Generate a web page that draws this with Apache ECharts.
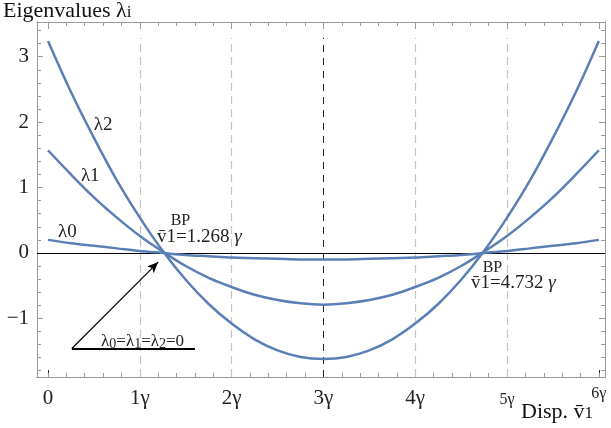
<!DOCTYPE html>
<html>
<head>
<meta charset="utf-8">
<script src="https://cdn.jsdelivr.net/npm/echarts@6/dist/echarts.min.js"></script>
<style>
  html, body { margin: 0; padding: 0; background: #fff; }
  #chart { width: 611px; height: 428px; }
</style>
</head>
<body>
<div id="chart"></div>
<script>
// Displacement (in units of gamma) at which the eigenvalues are sampled
const xValues = [0, 0.25, 0.5, 0.75, 1, 1.25, 1.5, 1.75, 2, 2.25, 2.5, 2.75, 3,
                 3.25, 3.5, 3.75, 4, 4.25, 4.5, 4.75, 5, 5.25, 5.5, 5.75, 6];

// Eigenvalues lambda_0, lambda_1, lambda_2
const lambda0 = [0.20, 0.15, 0.11, 0.07, 0.03, 0.00, -0.03, -0.05, -0.07, -0.08, -0.09, -0.10, -0.10,
                 -0.10, -0.09, -0.08, -0.07, -0.05, -0.03, 0.00, 0.03, 0.07, 0.11, 0.15, 0.20];
const lambda1 = [1.57, 1.20, 0.85, 0.54, 0.26, 0.02, -0.20, -0.38, -0.52, -0.64, -0.72, -0.77, -0.79,
                 -0.77, -0.72, -0.64, -0.52, -0.38, -0.20, 0.02, 0.26, 0.54, 0.85, 1.20, 1.57];
const lambda2 = [3.24, 2.46, 1.76, 1.11, 0.54, 0.03, -0.41, -0.78, -1.08, -1.32, -1.49, -1.59, -1.62,
                 -1.59, -1.49, -1.32, -1.08, -0.78, -0.41, 0.03, 0.54, 1.11, 1.76, 2.46, 3.24];

// Branch points where all three eigenvalues vanish
const branchPoints = [1.268, 4.732];

// Tick positions
const xMajorTicks = [0, 1, 2, 3, 4, 5, 6];
const xMinorTicks = [0, 0.2, 0.4, 0.6, 0.8, 1, 1.2, 1.4, 1.6, 1.8, 2, 2.2, 2.4, 2.6, 2.8, 3,
                     3.2, 3.4, 3.6, 3.8, 4, 4.2, 4.4, 4.6, 4.8, 5, 5.2, 5.4, 5.6, 5.8, 6];
const xTickLabels = [0, 1, 2, 3, 4];
const xTickLabelsSmall = [5];
const xTickLabelsTop = [6];
const yMajorTicks = [-1, 0, 1, 2, 3];
const yMinorTicks = [-1.8, -1.6, -1.4, -1.2, -1, -0.8, -0.6, -0.4, -0.2, 0, 0.2, 0.4, 0.6, 0.8, 1,
                     1.2, 1.4, 1.6, 1.8, 2, 2.2, 2.4, 2.6, 2.8, 3, 3.2, 3.4];

// Vertical guide lines at multiples of gamma
const guideX = [1, 2, 4, 5];
const centreGuideX = 3;

const X_MIN = -0.12, X_MAX = 6.067;
const Y_MIN = -1.896, Y_MAX = 3.53;
const GUIDE_TOP = 3.29;

const SERIF = '"Liberation Serif", "DejaVu Serif", serif';
const LINE_COLOR = '#5b7fb5';
const FRAME = '#9a9a9a';

function pairs(xs, ys) { return xs.map((x, i) => [x, ys[i]]); }
function gammaLabel(v) { return v === 0 ? '0' : v + 'γ'; }

function frameAxisX(pos, ticks, len, color, extra) {
  return Object.assign({
    type: 'value', position: pos, min: X_MIN, max: X_MAX,
    axisLine: { show: true, onZero: false, lineStyle: { color: FRAME, width: 1 } },
    axisTick: { show: true, inside: true, length: len, customValues: ticks, lineStyle: { color: color, width: 1 } },
    axisLabel: { show: false },
    splitLine: { show: false }
  }, extra || {});
}
function frameAxisY(pos, ticks, len, color, extra) {
  return Object.assign({
    type: 'value', position: pos, min: Y_MIN, max: Y_MAX,
    axisLine: { show: true, onZero: false, lineStyle: { color: FRAME, width: 1 } },
    axisTick: { show: true, inside: true, length: len, customValues: ticks, lineStyle: { color: color, width: 1 } },
    axisLabel: { show: false },
    splitLine: { show: false }
  }, extra || {});
}

const labelFont = { fontFamily: SERIF, color: '#222' };

const chart = echarts.init(document.getElementById('chart'), null, { renderer: 'canvas' });

const curveStyle = { color: LINE_COLOR, width: 2.5 };

const option = {
  animation: false,
  backgroundColor: '#fff',
  grid: { left: 37, right: 6, top: 22, bottom: 51, containLabel: false },
  xAxis: [
    frameAxisX('bottom', xMajorTicks, 7, '#333', {
      axisLabel: Object.assign({ show: true, customValues: xTickLabels, formatter: gammaLabel,
                                 fontSize: 21, margin: 11 }, labelFont)
    }),
    frameAxisX('bottom', xMinorTicks, 4, FRAME, {
      axisLabel: Object.assign({ show: true, customValues: xTickLabelsSmall, formatter: gammaLabel,
                                 fontSize: 16, margin: 15 }, labelFont)
    }),
    frameAxisX('bottom', [], 0, FRAME, {
      axisTick: { show: false },
      axisLabel: Object.assign({ show: true, customValues: xTickLabelsTop, formatter: gammaLabel,
                                 fontSize: 16, margin: 9 }, labelFont)
    }),
    frameAxisX('top', xMajorTicks, 7, FRAME),
    frameAxisX('top', xMinorTicks, 4, FRAME)
  ],
  yAxis: [
    frameAxisY('left', yMajorTicks, 6, FRAME, {
      axisLabel: Object.assign({ show: true, customValues: yMajorTicks,
                                 formatter: v => (v < 0 ? '\u2212' + Math.abs(v) : String(v)),
                                 fontSize: 21, margin: 8 }, labelFont)
    }),
    frameAxisY('left', yMinorTicks, 4, FRAME),
    frameAxisY('right', yMajorTicks, 6, FRAME),
    frameAxisY('right', yMinorTicks, 4, FRAME)
  ],
  series: [
    {
      name: 'λ2', type: 'line', data: pairs(xValues, lambda2), smooth: 0.35, showSymbol: false,
      lineStyle: curveStyle, silent: true, z: 5
    },
    {
      name: 'λ1', type: 'line', data: pairs(xValues, lambda1), smooth: 0.35, showSymbol: false,
      lineStyle: curveStyle, silent: true, z: 5
    },
    {
      name: 'λ0', type: 'line', data: pairs(xValues, lambda0), smooth: 0.35, showSymbol: false,
      lineStyle: curveStyle, silent: true, z: 5
    },
    {
      // guides, zero line, arrow and annotations
      name: 'guides', type: 'line', data: [], silent: true, z: 3,
      markLine: {
        silent: true, symbol: ['none', 'none'], animation: false,
        label: { show: false },
        data: [
          ...guideX.map(x => [
            { coord: [x, Y_MIN], lineStyle: { color: '#c4c4c4', width: 1.2, type: [8, 5] } },
            { coord: [x, GUIDE_TOP] }
          ]),
          [
            { coord: [centreGuideX, Y_MIN], lineStyle: { color: '#222', width: 1, type: [7, 6] } },
            { coord: [centreGuideX, GUIDE_TOP] }
          ],
          { yAxis: 0, lineStyle: { color: '#000', width: 1, type: 'solid' } },
          [
            { coord: [0.26, -1.46], lineStyle: { color: '#000', width: 1.2, type: 'solid' }, symbol: 'none' },
            { coord: [1.2, -0.14], symbol: 'arrow', symbolSize: [7, 11] }
          ],
          [
            { coord: [0.26, -1.46], lineStyle: { color: '#000', width: 2, type: 'solid' } },
            { coord: [1.6, -1.46] }
          ]
        ]
      },
      markPoint: {
        silent: true, symbol: 'circle', symbolSize: 0, animation: false,
        label: {
          show: true, position: 'inside', fontFamily: SERIF, color: '#222',
          rich: {
            l: { fontFamily: SERIF, fontSize: 19, color: '#222' },
            ls: { fontFamily: SERIF, fontSize: 14, color: '#222', padding: [4, 0, 0, 0] },
            e: { fontFamily: SERIF, fontSize: 17, color: '#222' },
            b: { fontFamily: SERIF, fontSize: 16, color: '#222' },
            v: { fontFamily: SERIF, fontSize: 19, color: '#222' },
            g: { fontFamily: SERIF, fontSize: 19, color: '#222', fontStyle: 'italic' }
          }
        },
        data: [
          { coord: [0.6, 1.96], label: { formatter: '{l|λ2}' } },
          { coord: [0.46, 1.17], label: { formatter: '{l|λ1}' } },
          { coord: [0.21, 0.32], label: { formatter: '{l|λ0}' } },
          { coord: [1.03, -1.36], label: { formatter: '{e|λ}{ls|0}{e|=λ}{ls|1}{e|=λ}{ls|2}{e|=0}' } },
          { coord: [branchPoints[0], 0], label: { formatter: '{b|BP}', offset: [16, -32] } },
          { coord: [branchPoints[0], 0], label: { formatter: '{v|v\u03041=' + branchPoints[0] + ' }{g|γ}', offset: [35, -16] } },
          { coord: [branchPoints[1], 0], label: { formatter: '{b|BP}', offset: [10, 15] } },
          { coord: [branchPoints[1], 0], label: { formatter: '{v|v\u03041=' + branchPoints[1] + ' }{g|γ}', offset: [31, 30] } }
        ]
      }
    }
  ],
  graphic: [
    {
      type: 'text', left: 3, top: 0, silent: true,
      style: {
        text: '{t|Eigenvalues λ}{s|i}',
        rich: {
          t: { fontFamily: SERIF, fontSize: 22, fill: '#111' },
          s: { fontFamily: SERIF, fontSize: 17, fill: '#111', padding: [4, 0, 0, 0] }
        }
      }
    },
    {
      type: 'text', left: 521, top: 401, silent: true,
      style: {
        text: '{t|Disp. v\u0304}{s|1}',
        rich: {
          t: { fontFamily: SERIF, fontSize: 22, fill: '#111' },
          s: { fontFamily: SERIF, fontSize: 17, fill: '#111', padding: [4, 0, 0, 0] }
        }
      }
    }
  ]
};

chart.setOption(option);
</script>
</body>
</html>
